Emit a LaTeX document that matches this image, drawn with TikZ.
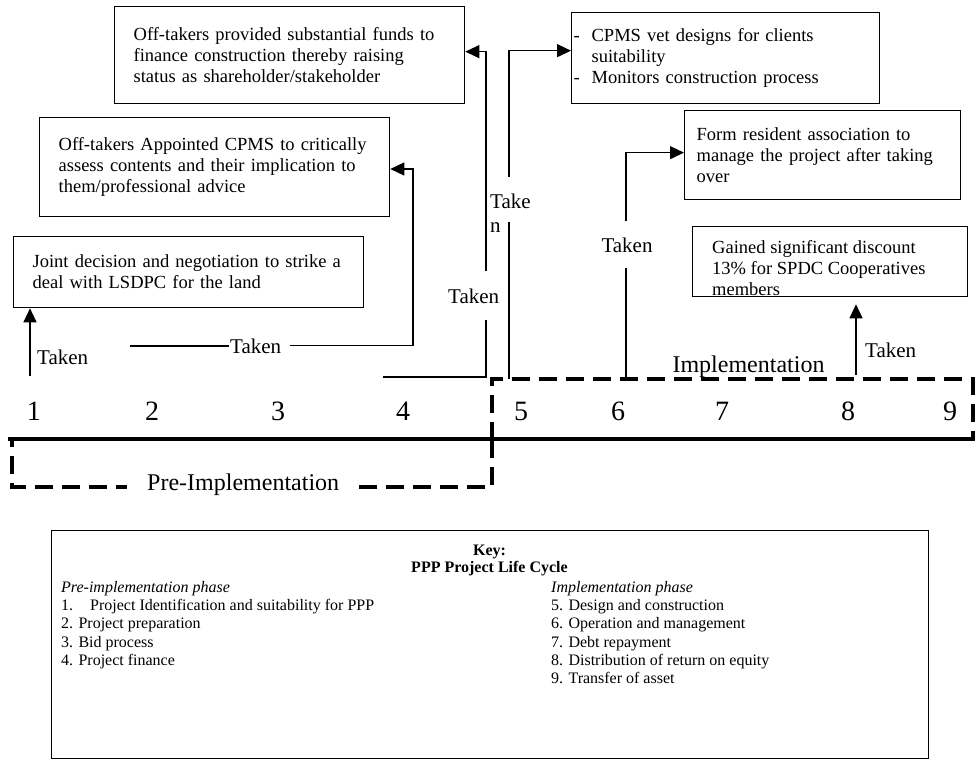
\documentclass[tikz,border=0pt]{standalone}
\usepackage{fontspec}
\setmainfont{Liberation Serif}
\usetikzlibrary{arrows.meta, positioning}

\newcommand\bxfont{\fontsize{18.5}{21}\selectfont}
\newcommand\lblfont{\fontsize{21}{24}\selectfont}
\newcommand\numfont{\fontsize{28}{30}\selectfont}
\newcommand\phasefont{\fontsize{24}{26}\selectfont}
\newcommand\keyfont{\fontsize{16}{18.3}\selectfont}
\newcommand\keyhfont{\fontsize{16}{17}\selectfont}

\begin{document}
\begin{tikzpicture}[
  x=1pt, y=-1pt,
  box/.style      = {draw, line width=1.3pt, anchor=north west, align=left,
                     inner ysep=0pt, font=\bxfont},
  lbl/.style      = {font=\lblfont, inner sep=1pt},
  num/.style      = {font=\numfont, anchor=base},
  phase/.style    = {font=\phasefont, anchor=base west},
  conn/.style     = {line width=1.3pt},
  arr/.style      = {conn, -{Triangle[length=14pt, width=13pt]}},
  phasebox/.style = {line width=4pt, dash pattern=on 18pt off 9pt},
  keytext/.style  = {font=\keyfont, align=left, anchor=north west, inner sep=0pt}
]
  \useasboundingbox (0,0) rectangle (975,764);

  %% Outcome boxes
  \node[box, text width=312pt, inner xsep=19pt, minimum height=97pt] (funds) at (114,6)
    {Off-takers provided substantial funds to\\finance construction thereby raising\\status as shareholder/stakeholder};
  \node[box, text width=312pt, inner xsep=19pt, minimum height=99pt] (assess) at (39,117)
    {Off-takers Appointed CPMS to critically\\assess contents and their implication to\\them/professional advice};
  \node[box, text width=312pt, inner xsep=19pt, minimum height=71pt] (decision) at (13,236)
    {Joint decision and negotiation to strike a\\deal with LSDPC for the land};
  \node[box, text width=304pt, inner xsep=2pt, minimum height=91pt] (cpms) at (571,12)
    {\makebox[18pt][l]{-}CPMS vet designs for clients\\\hspace*{18pt}suitability\\\makebox[18pt][l]{-}Monitors construction process};
  \node[box, text width=252pt, inner xsep=12pt, minimum height=89pt] (resident) at (684,110)
    {Form resident association to\\manage the project after taking\\over};
  \node[box, minimum width=275pt, minimum height=70pt] (gained) at (692,226) {};
  \node[font=\bxfont, align=left, anchor=north west, inner sep=0pt] (gainedtxt) at (712,240.5)
    {Gained significant discount\\13\%\ for SPDC Cooperatives\\members};

  %% Phase frames and time line
  \draw[phasebox] (492,440) -- (492,379) -- (973,379) -- (973,440);
  \draw[phasebox] (492,440) -- (492,487) -- (12,487) -- (12,440);
  \draw[line width=4pt] (8,439) -- (975,439);
  \node[phase] (impl) at (669,372) {Implementation};
  \node[phase, fill=white, inner xsep=20pt, inner ysep=3pt] (preimp) at (127,490) {Pre-Implementation};

  \foreach \n/\x in {1/34, 2/152, 3/278, 4/403, 5/521, 6/618, 7/722, 8/848, 9/950}
    \node[num] (n\n) at (\x,420) {\n};

  %% Labels
  \node[lbl, anchor=base west] (t1) at (36,364) {Taken};
  \node[lbl, anchor=base west] (t2) at (229,353) {Taken};
  \node[lbl, anchor=base west, inner ysep=17pt] (t4) at (447,303) {Taken};
  \node[lbl, align=left, anchor=north west, inner sep=0pt] (t5) at (490,194) {Take\\n};
  \node[lbl, anchor=base, inner ysep=16pt] (t6) at (627,252) {Taken};
  \node[lbl, anchor=base west] (t8) at (864,357) {Taken};

  %% Connectors
  \coordinate (p1) at (30,376);
  \coordinate (p2) at (130,346);
  \coordinate (q2) at (413,169);
  \coordinate (p4) at (383,377);
  \coordinate (q4) at (486,377);
  \coordinate (p5) at (509,379);
  \coordinate (g5) at (509,222);
  \coordinate (h5) at (509,177);
  \coordinate (p6) at (626,379);
  \coordinate (p8) at (856,375);

  \draw[arr] (p1) -- (p1 |- decision.south);
  \draw[conn] (p2) -- (p2 -| t2.west);
  \draw[arr] ([xshift=8pt]t2.east) -| (q2) -- (q2 -| assess.east);
  \draw[conn] (p4) -- (q4) -- (q4 |- t4.south);
  \draw[arr] (q4 |- t4.north) |- ([yshift=3.5pt]funds.east);
  \draw[conn] (p5) -- (g5);
  \draw[arr] (h5) |- ([yshift=7.5pt]cpms.west);
  \draw[conn] (p6) -- (p6 |- t6.south);
  \draw[arr] (p6 |- t6.north) |- ([yshift=2.5pt]resident.west);
  \draw[arr, shorten >=7pt] (p8) -- (p8 |- gained.south);

  %% Key
  \node[draw, line width=1.3pt, minimum width=877pt, minimum height=228pt,
        anchor=north west] (key) at (51,530) {};
  \node[font=\keyhfont, align=center, anchor=north, inner sep=0pt] (keyhead) at (489.5,545.3)
    {\textbf{Key:}\\\textbf{PPP Project Life Cycle}};
  \node[keytext] (prelist) at (61,581)
    {\textit{Pre-implementation phase}\\
     \makebox[29pt][l]{1.}Project Identification and suitability for PPP\\
     2. Project preparation\\
     3. Bid process\\
     4. Project finance};
  \node[keytext] (implist) at (551,581)
    {\textit{Implementation phase}\\
     5. Design and construction\\
     6. Operation and management\\
     7. Debt repayment\\
     8. Distribution of return on equity\\
     9. Transfer of asset};
\end{tikzpicture}
\end{document}
